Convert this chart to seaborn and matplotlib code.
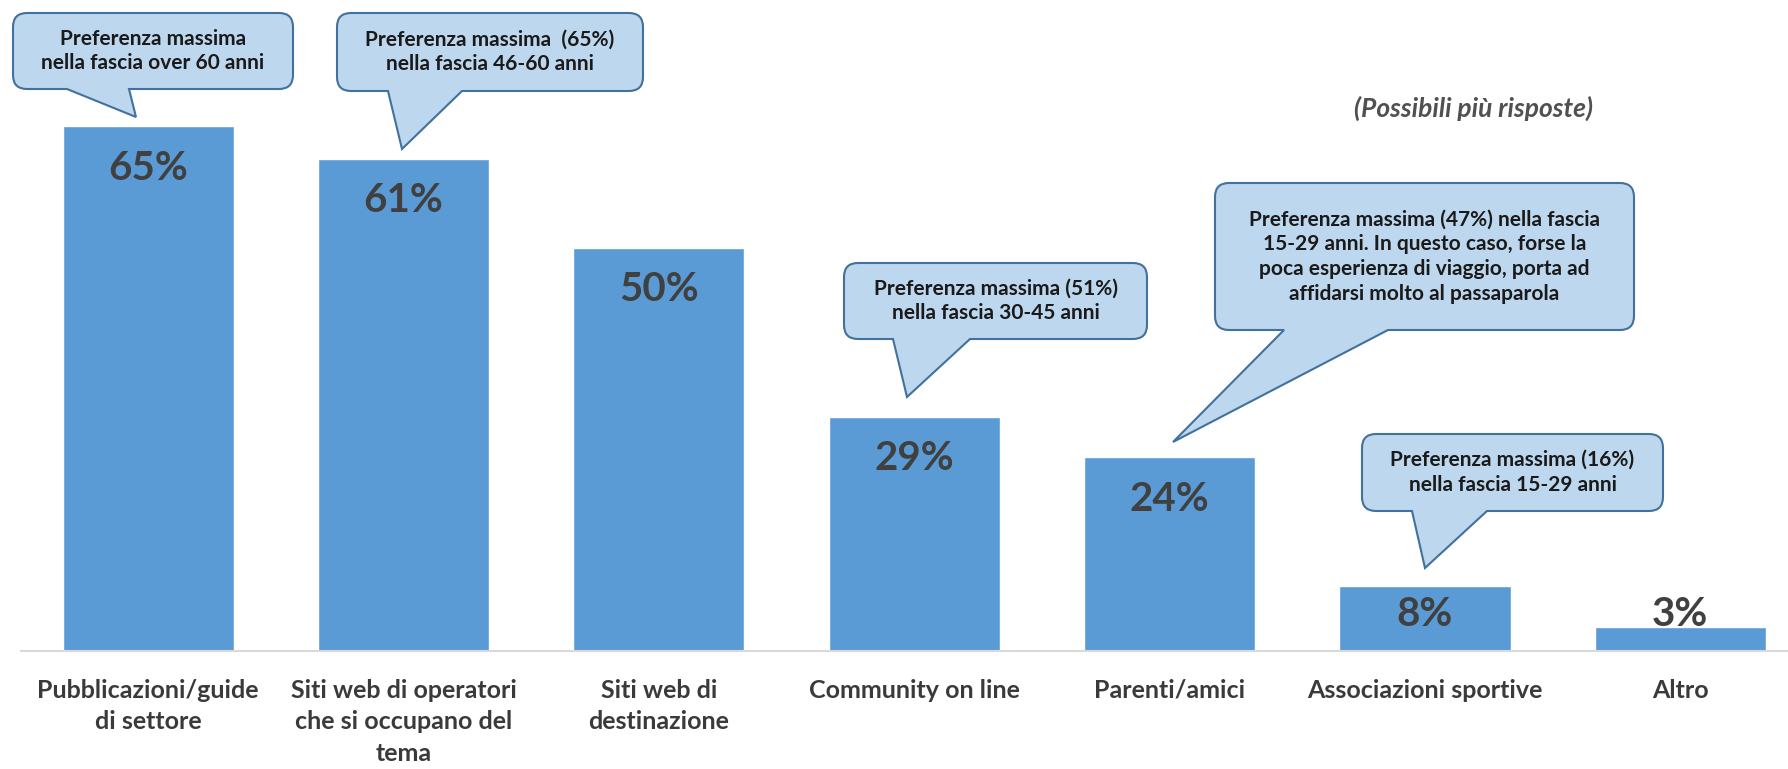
import numpy as np
import pandas as pd
import matplotlib
matplotlib.use('Agg')
import matplotlib.pyplot as plt
from matplotlib.path import Path
from matplotlib.patches import PathPatch
import seaborn as sns

# dati del grafico
categorie = ['Pubblicazioni/guide\ndi settore',
             'Siti web di operatori\nche si occupano del\ntema',
             'Siti web di\ndestinazione',
             'Community on line',
             'Parenti/amici',
             'Associazioni sportive',
             'Altro']
valori = [65, 61, 50, 29, 24, 8, 3]
etichette = ['65%', '61%', '50%', '29%', '24%', '8%', '3%']

note = ['Preferenza massima\nnella fascia over 60 anni',
        'Preferenza massima  (65%)\nnella fascia 46-60 anni',
        'Preferenza massima (51%)\nnella fascia 30-45 anni',
        'Preferenza massima (47%) nella fascia\n15-29 anni. In questo caso, forse la\npoca esperienza di viaggio, porta ad\naffidarsi molto al passaparola',
        'Preferenza massima (16%)\nnella fascia 15-29 anni']

sottotitolo = '(Possibili più risposte)'

sns.set_theme(style='white')
plt.rcParams['font.family'] = ['Lato', 'DejaVu Sans']

W, H = 1788, 769
fig = plt.figure(figsize=(W / 100, H / 100), dpi=100)
ax = fig.add_axes([20.5 / W, 1 - 651 / H, (1808 - 20.5) / W, 80 * 8.07 / H])

df = pd.DataFrame({'categoria': categorie, 'valore': valori})
sns.barplot(data=df, x='categoria', y='valore', color='#5B9BD5',
            saturation=1, width=0.67, errorbar=None, ax=ax)
ax.set_ylim(0, 80)
ax.set_xlabel('')
ax.set_ylabel('')
ax.set_yticks([])
for s in ['left', 'top', 'right']:
    ax.spines[s].set_visible(False)
ax.spines['bottom'].set_color('#D9D9D9')
ax.spines['bottom'].set_linewidth(1.5)
ax.tick_params(axis='x', length=0, pad=20)
for t in ax.get_xticklabels():
    t.set_fontsize(18)
    t.set_fontweight('bold')
    t.set_color('#3A3A3A')
    t.set_linespacing(1.45)
    t.set_verticalalignment('top')

# etichette percentuali
for i, (v, et) in enumerate(zip(valori, etichette)):
    ax.text(i, max(v - 5.2, 4.5), et, ha='center', va='center',
            fontsize=29, fontweight='bold', color='#404040')

# fumetti (coordinate in pixel)
ov = fig.add_axes([0, 0, 1, 1], zorder=5)
ov.set_xlim(0, W)
ov.set_ylim(H, 0)
ov.axis('off')


def fumetto(x0, y0, x1, y1, bx0, bx1, tip, testo, fs=15, r=14):
    verts = [(x0 + r, y0), (x1 - r, y0), (x1, y0), (x1, y0 + r),
             (x1, y1 - r), (x1, y1), (x1 - r, y1),
             (bx1, y1), tip, (bx0, y1),
             (x0 + r, y1), (x0, y1), (x0, y1 - r),
             (x0, y0 + r), (x0, y0), (x0 + r, y0), (x0 + r, y0)]
    codes = [Path.MOVETO, Path.LINETO, Path.CURVE3, Path.CURVE3,
             Path.LINETO, Path.CURVE3, Path.CURVE3,
             Path.LINETO, Path.LINETO, Path.LINETO,
             Path.LINETO, Path.CURVE3, Path.CURVE3,
             Path.LINETO, Path.CURVE3, Path.CURVE3, Path.CLOSEPOLY]
    ov.add_patch(PathPatch(Path(verts, codes), facecolor='#BDD7EE',
                           edgecolor='#41719C', lw=1.5))
    ov.text((x0 + x1) / 2, (y0 + y1) / 2, testo, ha='center', va='center',
            fontsize=fs, fontweight='bold', color='#1A1A1A', linespacing=1.3)


fumetto(13, 13, 293, 89, 67, 129, (136, 117), note[0])
fumetto(337, 13, 643, 91, 388, 462, (402, 149), note[1])
fumetto(844, 263, 1147, 339, 893, 970, (907, 397), note[2])
fumetto(1215, 183, 1634, 330, 1284, 1388, (1173, 442), note[3])
fumetto(1362, 434, 1663, 511, 1412, 1487, (1425, 568), note[4])

ov.text(1473, 108, sottotitolo, ha='center', va='center', fontsize=19,
        fontweight='bold', fontstyle='italic', color='#505050')

fig.savefig('out.png', dpi=100)
